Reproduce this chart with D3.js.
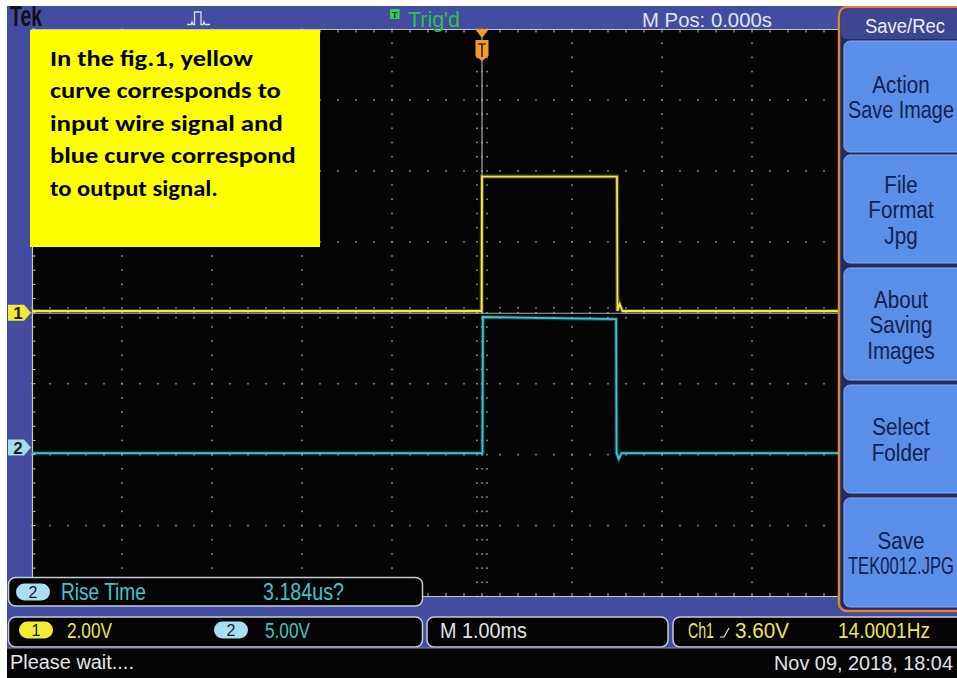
<!DOCTYPE html>
<html><head><meta charset="utf-8">
<script src="https://cdn.jsdelivr.net/npm/d3@7/dist/d3.min.js"></script>
<style>body{margin:0;background:#fff;}svg{display:block;}</style>
</head><body>
<svg id="c" width="957" height="678"></svg>
<script>
// ---------------- data ----------------
const timeDomainMs = [-5, 5];          // 10 divisions at 1.00 ms/div, M Pos 0.000 s
const divDomain = [-4, 4];             // 8 vertical divisions
const ch1TimeMs = [-5, -0.005, 0, 1.5, 1.505, 1.53, 1.56, 5];
const ch1Volts  = [0.05, 0.05, 3.84, 3.84, 0.05, 0.25, 0.05, 0.05];
const ch2TimeMs = [-5, 0.005, 0.01, 1.49, 1.495, 1.52, 1.55, 5];
const ch2Volts  = [-0.4, -0.4, 9.2, 9.05, -0.4, -0.8, -0.4, -0.4];
const ch1VoltsPerDiv = 2.0, ch2VoltsPerDiv = 5.0;
const ch1OffsetDiv = 0.0, ch2OffsetDiv = -1.9;
const triggerTimeMs = 0;
const menuTitle = "Save/Rec";
const menuButtons = [["Action","Save Image"],["File","Format","Jpg"],["About","Saving","Images"],["Select","Folder"],["Save","TEK0012.JPG"]];
const noteLines = ["In the fig.1, yellow","curve corresponds to","input wire signal and","blue curve correspond","to output signal."];
const measureLabel = "Rise Time", measureValue = "3.184us?";
const ch1Scale = "2.00V", ch2Scale = "5.00V", timeScale = "M 1.00ms";
const trigSource = "Ch1", trigLevel = "3.60V", trigFreq = "14.0001Hz";
const statusText = "Please wait....", dateText = "Nov 09, 2018, 18:04";
const headerTrig = "Trig'd", headerPos = "M Pos: 0.000s";

// ---------------- style ----------------
const BLUE="#434c9e", NAVY="#232b63", ORANGE="#dc8532", BTN="#5b8ee6", BTN_TXT="#142050";
const YEL="#ebe54e", CYAN="#42c4c8", TRACE_Y="#f0e84a", TRACE_C="#3ec6cf", GRIDC="#929292";
const SF = "'Liberation Sans', Arial, sans-serif";

const svg = d3.select("#c");
const gx0 = 32, gx1 = 932, gy0 = 29, gy1 = 596.5;
const x = d3.scaleLinear().domain(timeDomainMs).range([gx0, gx1]);
const y = d3.scaleLinear().domain(divDomain).range([gy1, gy0]);

// text drawn at a given size, then squeezed horizontally with a transform to a target width
function label(parent, str, o){
  const g = parent.append("g");
  const t = g.append("text").text(str)
    .attr("font-size", o.size).attr("fill", o.color)
    .attr("font-weight", o.weight || "normal")
    .attr("font-family", o.family || SF)
    .attr("x", 0).attr("y", 0);
  const nat = t.node().getComputedTextLength();
  let w = o.w != null ? o.w : nat * (o.sx || 1);
  if (o.maxW != null && w > o.maxW) w = o.maxW;
  const s = w / nat;
  let xx = o.x;
  if (o.anchor === "middle") xx = o.x - w/2; else if (o.anchor === "end") xx = o.x - w;
  g.attr("transform", `translate(${xx},${o.y}) scale(${s},1)`);
  return g;
}

// backgrounds
svg.append("rect").attr("width",957).attr("height",678).attr("fill","#fff");
svg.append("rect").attr("x",7).attr("y",6).attr("width",950).attr("height",672).attr("fill",BLUE);
svg.append("rect").attr("x",gx0).attr("y",gy0).attr("width",gx1-gx0).attr("height",gy1-gy0).attr("fill","#050505");

// graticule
const grid = svg.append("g");
const minorX = d3.range(-25, 26).map(i => i/5);
const minorY = d3.range(-20, 21).map(i => i/5);
const majorX = d3.range(-4, 5), majorY = d3.range(-3, 4);
function dot(px, py){ grid.append("rect").attr("x", px-0.8).attr("y", py-0.8).attr("width",1.6).attr("height",1.6).attr("fill",GRIDC); }
majorX.forEach(k => minorY.forEach(j => dot(x(k), y(j))));
majorY.forEach(j => minorX.forEach(i => dot(x(i), y(j))));
// centre ticks
minorY.forEach(j => [-5,5].forEach(d => dot(x(0)+d, y(j))));
minorX.forEach(i => [-5,5].forEach(d => dot(x(i), y(0)+d)));
// borders with ticks
const BC = "#c4c6cc";
grid.append("line").attr("x1",gx0).attr("x2",gx1).attr("y1",gy0+0.5).attr("y2",gy0+0.5).attr("stroke",BC).attr("stroke-width",1.2);
grid.append("line").attr("x1",gx0).attr("x2",gx1).attr("y1",gy1).attr("y2",gy1).attr("stroke",BC).attr("stroke-width",1.2);
grid.append("line").attr("x1",gx0+0.5).attr("x2",gx0+0.5).attr("y1",gy0).attr("y2",gy1).attr("stroke",BC).attr("stroke-width",1.2);
minorX.forEach(i => {
  grid.append("line").attr("x1",x(i)).attr("x2",x(i)).attr("y1",gy0).attr("y2",gy0+3.5).attr("stroke",BC);
  grid.append("line").attr("x1",x(i)).attr("x2",x(i)).attr("y1",gy1-3.5).attr("y2",gy1).attr("stroke",BC);
});
minorY.forEach(j => grid.append("line").attr("x1",gx0).attr("x2",gx0+3.5).attr("y1",y(j)).attr("y2",y(j)).attr("stroke",BC));
// reference lines
grid.append("line").attr("x1",gx0).attr("x2",gx1).attr("y1",y(0)+0.5).attr("y2",y(0)+0.5).attr("stroke","#a9a9b0").attr("stroke-width",1.2);
grid.append("line").attr("x1",x(triggerTimeMs)).attr("x2",x(triggerTimeMs)).attr("y1",gy0).attr("y2",y(0)).attr("stroke","#a9a9b0").attr("stroke-width",1.2);

// traces
svg.append("clipPath").attr("id","gc").append("rect").attr("x",gx0).attr("y",gy0).attr("width",gx1-gx0).attr("height",gy1-gy0);
const traces = svg.append("g").attr("clip-path","url(#gc)");
function drawTrace(ts, vs, vpd, off, col){
  const pts = ts.map((t,i) => ({t, v: vs[i]}));
  const line = d3.line().x(d => x(d.t)).y(d => y(d.v / vpd + off));
  traces.append("path").datum(pts).attr("d", line).attr("fill","none").attr("stroke",col).attr("stroke-width",4).attr("stroke-opacity",0.3);
  traces.append("path").datum(pts).attr("d", line).attr("fill","none").attr("stroke",col).attr("stroke-width",1.8);
}
drawTrace(ch2TimeMs, ch2Volts, ch2VoltsPerDiv, ch2OffsetDiv, TRACE_C);
drawTrace(ch1TimeMs, ch1Volts, ch1VoltsPerDiv, ch1OffsetDiv, TRACE_Y);

// trigger marker
const tx = x(triggerTimeMs);
svg.append("path").attr("d", `M${tx-7},${gy0} L${tx+7},${gy0} L${tx},${gy0+9} Z`).attr("fill","#f29a2e");
svg.append("path").attr("d", `M${tx-6.5},40 L${tx+6.5},40 L${tx+6.5},56 L${tx},61 L${tx-6.5},56 Z`).attr("fill","#f29a2e");
svg.append("path").attr("d", `M${tx-4},44 L${tx+4},44 M${tx},44 L${tx},57`).attr("stroke","#3a2a10").attr("stroke-width",1.6);

// channel markers
function chMarker(off, fill, num){
  const cy = y(off);
  svg.append("path").attr("d", `M8,${cy-8} L24,${cy-8} L31,${cy} L24,${cy+8} L8,${cy+8} Z`).attr("fill",fill);
  label(svg, num, {x:18, y:cy+6, size:17, color:"#1c1c30", anchor:"middle", weight:"bold"});
}
chMarker(ch1OffsetDiv, "#f2ea2e", "1");
chMarker(ch2OffsetDiv, "#a8dcea", "2");

// annotation box
svg.append("rect").attr("x",30).attr("y",30).attr("width",290).attr("height",217).attr("fill","#ffff00");
const noteW = [203, 231, 233, 246, 168];
noteLines.forEach((s,i) => label(svg, s, {x:50, y:66 + i*32.4, size:23, color:"#000", weight:"bold", family:"Carlito, Lato, 'Open Sans', sans-serif", w: noteW[i]}));

// top bar
label(svg, "Tek", {x:10, y:26, size:29, color:"#121212", weight:"bold", w:32});
svg.append("path").attr("d","M187,24.5 L191,24.5 L192,22 L193,24.5 L194.5,24.5 L194.5,12 L201,12 L201,24.5 L203,24.5 L204,22 L205,24.5 L210,24.5")
  .attr("fill","none").attr("stroke","#dcdce6").attr("stroke-width",1.3);
svg.append("rect").attr("x",390).attr("y",9).attr("width",9.5).attr("height",10).attr("fill","#2fd04a");
label(svg, "T", {x:394.7, y:17.5, size:9, color:"#0b3010", anchor:"middle", weight:"bold"});
label(svg, headerTrig, {x:408, y:26.5, size:22, color:"#2ec24e", w:52});
label(svg, headerPos, {x:642, y:27, size:21, color:"#e2e3ec", w:130});

// right menu panel
const panel = svg.append("g");
panel.append("rect").attr("x",839).attr("y",7).attr("width",130).attr("height",604).attr("rx",8).attr("fill",NAVY).attr("stroke",ORANGE).attr("stroke-width",2.5);
panel.append("rect").attr("x",841).attr("y",9).attr("width",120).attr("height",30).attr("rx",6).attr("fill","#3d4693");
label(panel, menuTitle, {x:905, y:33, size:19.5, color:"#eceef6", anchor:"middle", w:80});
const btnBands = [[41,152],[155,263],[268,380],[385,493],[498,607]];
menuButtons.forEach((lines, bi) => {
  const [b0, b1] = btnBands[bi];
  panel.append("rect").attr("x",844).attr("y",b0).attr("width",125).attr("height",b1-b0).attr("rx",6)
    .attr("fill",BTN).attr("stroke","#86acf2").attr("stroke-width",1);
  const cy = (b0 + b1) / 2;
  lines.forEach((s, li) => {
    const by = cy - (lines.length - 1) * 25.5 / 2 + 9 + li * 25.5;
    label(panel, s, {x:901, y:by, size:24, color:BTN_TXT, anchor:"middle", sx:0.86, maxW:106});
  });
});

// bottom readouts
const bot = svg.append("g");
function box(x0, y0, w, h){
  bot.append("rect").attr("x",x0).attr("y",y0).attr("width",w).attr("height",h).attr("rx",7)
    .attr("fill","#050505").attr("stroke","#c8cbd4").attr("stroke-width",1.5);
}
function badge(cx, cy, fill, num){
  bot.append("rect").attr("x",cx-17).attr("y",cy-8.5).attr("width",34).attr("height",17).attr("rx",8.5).attr("fill",fill);
  label(bot, num, {x:cx, y:cy+6, size:16, color:"#1a1a3a", anchor:"middle"});
}
box(8.5, 577.5, 414, 28.5);
badge(33, 592, "#a8deee", "2");
label(bot, measureLabel, {x:61, y:600, size:23, color:CYAN, w:85});
label(bot, measureValue, {x:263, y:600, size:23, color:CYAN, w:81});

box(8.5, 617, 414, 30);
badge(36, 630, "#f2ec34", "1");
label(bot, ch1Scale, {x:67, y:638, size:22, color:YEL, w:45});
badge(231, 630, "#a8deee", "2");
label(bot, ch2Scale, {x:265, y:638, size:22, color:CYAN, w:45});

box(427, 617, 241, 30);
label(bot, timeScale, {x:440, y:638, size:22, color:"#e2e2e6", w:87});

box(673, 617, 300, 30);
label(bot, trigSource, {x:688, y:638, size:22, color:YEL, w:26});
bot.append("path").attr("d","M720,637 L724,637 L729,628").attr("fill","none").attr("stroke","#e8e8e8").attr("stroke-width",1.2);
label(bot, trigLevel, {x:735, y:638, size:22, color:YEL, w:54});
label(bot, trigFreq, {x:838, y:638, size:22, color:YEL, w:92});

bot.append("rect").attr("x",7).attr("y",648).attr("width",950).attr("height",30).attr("fill","#050505");
bot.append("line").attr("x1",7).attr("x2",957).attr("y1",648).attr("y2",648).attr("stroke","#8a8ea0").attr("stroke-width",1);
label(bot, statusText, {x:10, y:669, size:21, color:"#e6e6ea", w:124});
label(bot, dateText, {x:953, y:670, size:21, color:"#e2e2e6", anchor:"end", w:179});

// white margins of the photo
svg.append("rect").attr("x",0).attr("y",0).attr("width",957).attr("height",6).attr("fill","#fff");
svg.append("rect").attr("x",0).attr("y",0).attr("width",7).attr("height",678).attr("fill","#fff");
</script>
</body></html>
